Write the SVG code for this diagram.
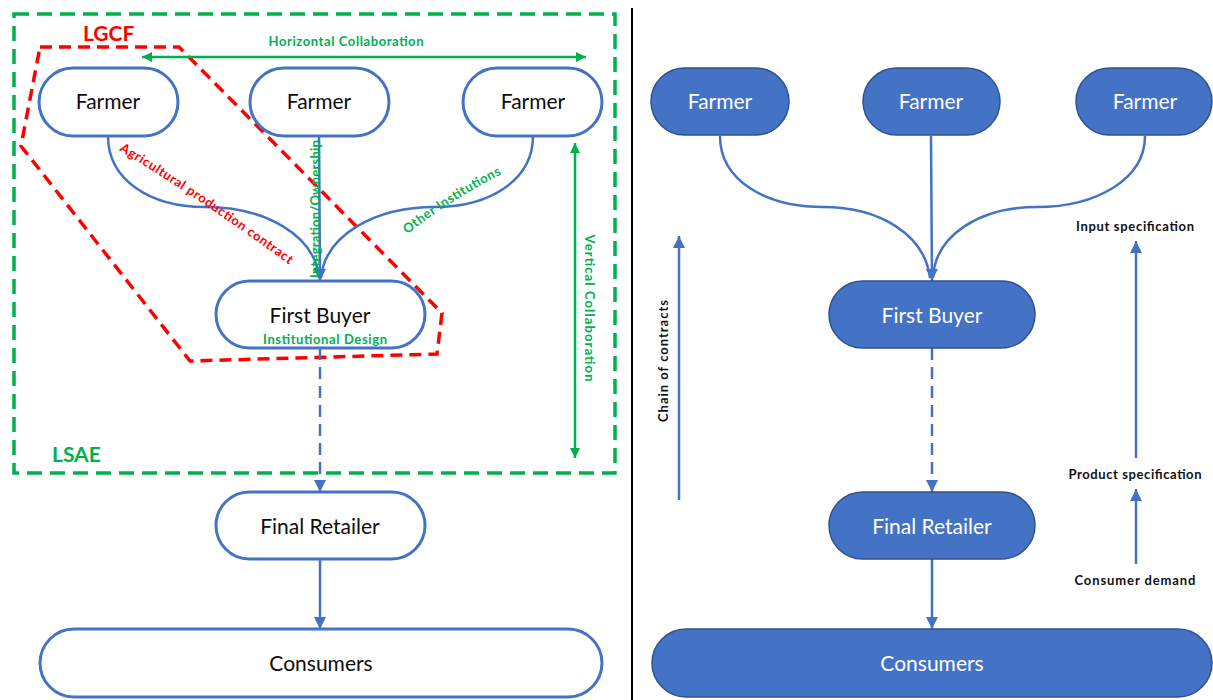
<svg xmlns="http://www.w3.org/2000/svg" width="1213" height="700" viewBox="0 0 1213 700">
<style>
  .bg{fill:#ffffff}
  .nodeL{fill:#ffffff;stroke:#4472C4;stroke-width:3}
  .nodeR{fill:#4472C4;stroke:#2F528F;stroke-width:1.5}
  .tL{font-family:Lato,"Liberation Sans",sans-serif;font-size:21px;fill:#0d0d0d;text-anchor:middle}
  .tR{font-family:Lato,"Liberation Sans",sans-serif;font-size:21px;fill:#ffffff;text-anchor:middle}
  .conn{fill:none;stroke:#4472C4;stroke-width:2.5}
  .dash{stroke-dasharray:12 7}
  .g{fill:none;stroke:#00B050;stroke-width:2.5}
  .lbl{font-family:Lato,"Liberation Sans",sans-serif;font-weight:bold;font-size:13px}
  .green{fill:#00B050}
  .red{fill:#FF0000}
  .blk{fill:#111111}
  .big{font-family:Lato,"Liberation Sans",sans-serif;font-weight:bold;font-size:21px}
</style>
<defs>
  <marker id="ab" markerUnits="userSpaceOnUse" markerWidth="12" markerHeight="12" refX="10" refY="5" orient="auto-start-reverse" viewBox="0 0 10 10">
    <path d="M0,0 L10,5 L0,10 z" fill="#4472C4"/>
  </marker>
  <marker id="ag" markerUnits="userSpaceOnUse" markerWidth="10" markerHeight="10" refX="10" refY="5" orient="auto-start-reverse" viewBox="0 0 10 10">
    <path d="M0,0 L10,5 L0,10 z" fill="#00B050"/>
  </marker>
  <path id="pAgri" d="M117,149 Q203,201 291,266"/>
  <path id="pOther" d="M405,236 Q450,200 504,173"/>
</defs>
<rect class="bg" x="0" y="0" width="1213" height="700"/>

<!-- regions -->
<g id="lsae">
  <rect x="14" y="14" width="601" height="459" fill="none" stroke="#00B050" stroke-width="3.5" stroke-dasharray="15 8"/>
  <text class="big green" x="52" y="462">LSAE</text>
</g>
<g id="lgcf">
  <polygon points="40,47 179,47 442,313 437,354 190,361 21,146" fill="none" stroke="#FF0000" stroke-width="3.5" stroke-dasharray="12 7"/>
  <text class="big red" x="83" y="41">LGCF</text>
</g>

<line x1="632" y1="8" x2="632" y2="700" stroke="#000000" stroke-width="2"/>

<!-- connectors -->
<g id="connectors">
  <path class="conn" d="M108,136 C108,180 150,207 205,207 C265,207 315,235 319,278"/>
  <path class="conn" d="M533,136 C533,180 490,207 435,207 C375,207 325,235 321,278"/>
  <line class="conn" x1="319" y1="136" x2="320" y2="281" marker-end="url(#ab)"/>
  <line class="conn dash" x1="320" y1="348" x2="320" y2="492" marker-end="url(#ab)"/>
  <line class="conn" x1="320" y1="559" x2="320" y2="629" marker-end="url(#ab)"/>

  <line class="g" x1="142" y1="57" x2="586" y2="57" marker-start="url(#ag)" marker-end="url(#ag)"/>
  <line class="g" x1="575" y1="143" x2="575" y2="458" marker-start="url(#ag)" marker-end="url(#ag)"/>

  <path class="conn" d="M720,136 C720,180 765,207 823,207 C880,207 925,235 930,278"/>
  <path class="conn" d="M1145,136 C1145,180 1095,207 1037,207 C980,207 935,235 933,278"/>
  <line class="conn" x1="931" y1="136" x2="932" y2="281" marker-end="url(#ab)"/>
  <line class="conn dash" x1="932" y1="348" x2="932" y2="492" marker-end="url(#ab)"/>
  <line class="conn" x1="932" y1="559" x2="932" y2="629" marker-end="url(#ab)"/>

  <line class="conn" x1="679" y1="500" x2="679" y2="236" marker-end="url(#ab)"/>
  <line class="conn" x1="1136" y1="458" x2="1136" y2="241" marker-end="url(#ab)"/>
  <line class="conn" x1="1136" y1="564" x2="1136" y2="489" marker-end="url(#ab)"/>
</g>

<!-- left labels -->
<g id="labels-left">
  <text class="lbl green" x="346" y="46" text-anchor="middle" textLength="155">Horizontal Collaboration</text>
  <text class="lbl red"><textPath href="#pAgri" startOffset="50%" text-anchor="middle" textLength="205">Agricultural production contract</textPath></text>
  <text class="lbl green"><textPath href="#pOther" startOffset="50%" text-anchor="middle" textLength="112">Other Institutions</textPath></text>
  <text class="lbl green" transform="translate(320,209) rotate(-90)" text-anchor="middle" textLength="138">Integration/Ownership</text>
  <text class="lbl green" x="325" y="344" text-anchor="middle" textLength="124">Institutional Design</text>
  <text class="lbl green" transform="translate(585,308) rotate(90)" text-anchor="middle" textLength="147">Vertical Collaboration</text>
</g>

<!-- right labels -->
<g id="labels-right">
  <text class="lbl blk" transform="translate(668,361) rotate(-90)" text-anchor="middle" textLength="122">Chain of contracts</text>
  <text class="lbl blk" x="1135" y="231" text-anchor="middle" textLength="118">Input specification</text>
  <text class="lbl blk" x="1135" y="479" text-anchor="middle" textLength="133">Product specification</text>
  <text class="lbl blk" x="1135" y="585" text-anchor="middle" textLength="121">Consumer demand</text>
</g>

<!-- left nodes -->
<g id="farmerL1"><rect class="nodeL" x="39" y="68" width="139" height="68" rx="34"/><text class="tL" x="108" y="109">Farmer</text></g>
<g id="farmerL2"><rect class="nodeL" x="250" y="68" width="139" height="68" rx="34"/><text class="tL" x="319" y="109">Farmer</text></g>
<g id="farmerL3"><rect class="nodeL" x="463" y="68" width="139" height="68" rx="34"/><text class="tL" x="533" y="109">Farmer</text></g>
<g id="buyerL"><rect class="nodeL" x="216" y="281" width="209" height="67" rx="33.5" fill-opacity="0"/><text class="tL" x="320" y="323">First Buyer</text></g>
<g id="retailerL"><rect class="nodeL" x="216" y="492" width="209" height="67" rx="33.5"/><text class="tL" x="320" y="534">Final Retailer</text></g>
<g id="consumersL"><rect class="nodeL" x="40" y="629" width="562" height="68" rx="34"/><text class="tL" x="321" y="671">Consumers</text></g>

<!-- right nodes -->
<g id="farmerR1"><rect class="nodeR" x="651" y="68" width="138" height="67" rx="33.5"/><text class="tR" x="720" y="109">Farmer</text></g>
<g id="farmerR2"><rect class="nodeR" x="863" y="68" width="137" height="67" rx="33.5"/><text class="tR" x="931" y="109">Farmer</text></g>
<g id="farmerR3"><rect class="nodeR" x="1076" y="68" width="136" height="67" rx="33.5"/><text class="tR" x="1145" y="109">Farmer</text></g>
<g id="buyerR"><rect class="nodeR" x="829" y="281" width="206" height="67" rx="33.5"/><text class="tR" x="932" y="323">First Buyer</text></g>
<g id="retailerR"><rect class="nodeR" x="829" y="492" width="206" height="67" rx="33.5"/><text class="tR" x="932" y="534">Final Retailer</text></g>
<g id="consumersR"><rect class="nodeR" x="652" y="629" width="560" height="68" rx="34"/><text class="tR" x="932" y="671">Consumers</text></g>
</svg>
